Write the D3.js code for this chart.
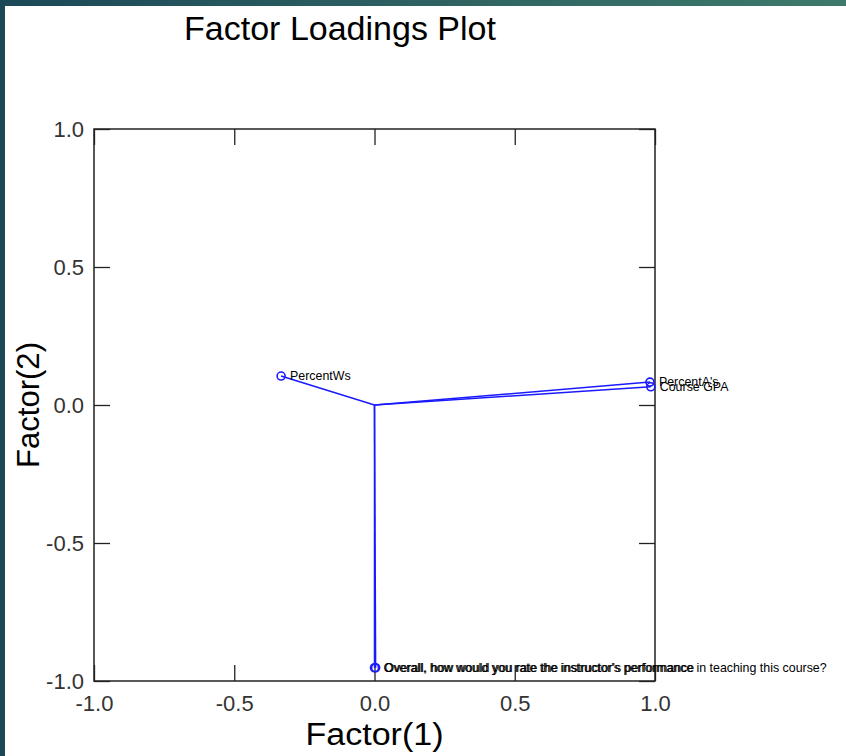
<!DOCTYPE html>
<html>
<head>
<meta charset="utf-8">
<script src="https://cdn.jsdelivr.net/npm/d3@7"></script>
<style>
  body { margin: 0; background: #fff; }
  svg { display: block; font-family: Arial, "Liberation Sans", sans-serif; }
</style>
</head>
<body>
<div id="chart"></div>
<script>
// factor loadings
var varNames = ["PercentWs", "PercentA's", "Course GPA",
  "Overall, how would you rate the instructor's performance",
  "Overall, how would you rate the instructor's performance in teaching this course?"];
var factor1 = [-0.333, 0.982, 0.985, 0.004, 0.0];
var factor2 = [0.105, 0.083, 0.066, -0.952, -0.952];
var tickVals = [-1.0, -0.5, 0.0, 0.5, 1.0];

var width = 846, height = 756;
var margin = {top: 129, right: 191, bottom: 75, left: 94};

var svg = d3.select("#chart").append("svg")
    .attr("width", width)
    .attr("height", height);

// teal window edge, top and left
var grad = svg.append("defs").append("linearGradient")
    .attr("id", "edge").attr("x1", "0%").attr("x2", "100%");
grad.append("stop").attr("offset", "0%").attr("stop-color", "#1c4858");
grad.append("stop").attr("offset", "100%").attr("stop-color", "#3e7a6b");
svg.append("rect").attr("width", width).attr("height", 6).attr("fill", "url(#edge)");
svg.append("rect").attr("width", 5).attr("height", height).attr("fill", "#1b4757");

var x = d3.scaleLinear().domain([-1, 1]).range([margin.left, width - margin.right]);
var y = d3.scaleLinear().domain([-1, 1]).range([height - margin.bottom, margin.top]);

var fmt = function(d) { return d.toFixed(1); };
var tickLen = 16;

// axes: labels outside on left/bottom, inner ticks on all four sides
svg.append("g")
    .attr("transform", "translate(0," + y(-1) + ")")
    .call(d3.axisBottom(x).tickValues(tickVals).tickFormat(fmt).tickSize(-tickLen).tickPadding(14))
    .call(function(g) { g.select(".domain").remove(); });
svg.append("g")
    .attr("transform", "translate(" + x(-1) + ",0)")
    .call(d3.axisLeft(y).tickValues(tickVals).tickFormat(fmt).tickSize(-tickLen).tickPadding(10))
    .call(function(g) { g.select(".domain").remove(); });
svg.append("g")
    .attr("transform", "translate(0," + y(1) + ")")
    .call(d3.axisTop(x).tickValues(tickVals).tickFormat("").tickSize(-tickLen))
    .call(function(g) { g.select(".domain").remove(); });
svg.append("g")
    .attr("transform", "translate(" + x(1) + ",0)")
    .call(d3.axisRight(y).tickValues(tickVals).tickFormat("").tickSize(-tickLen))
    .call(function(g) { g.select(".domain").remove(); });

svg.selectAll(".tick line").attr("stroke", "#222").attr("stroke-width", 1.3);
svg.selectAll(".tick text")
    .attr("font-size", 22)
    .attr("fill", "#333")
    .attr("font-family", "Arial, 'Liberation Sans', sans-serif");

// frame
svg.append("rect")
    .attr("x", x(-1)).attr("y", y(1))
    .attr("width", x(1) - x(-1)).attr("height", y(-1) - y(1))
    .attr("fill", "none").attr("stroke", "#222").attr("stroke-width", 1.5);

var data = varNames.map(function(n, i) { return {name: n, f1: factor1[i], f2: factor2[i]}; });

// vectors from the origin
svg.selectAll(".vec")
    .data(data)
  .enter().append("line")
    .attr("class", "vec")
    .attr("x1", x(0)).attr("y1", y(0))
    .attr("x2", function(d) { return x(d.f1); })
    .attr("y2", function(d) { return y(d.f2); })
    .attr("stroke", "#1a1aff")
    .attr("stroke-width", 1.5);

svg.selectAll(".pt")
    .data(data)
  .enter().append("circle")
    .attr("class", "pt")
    .attr("cx", function(d) { return x(d.f1); })
    .attr("cy", function(d) { return y(d.f2); })
    .attr("r", 4)
    .attr("fill", "none")
    .attr("stroke", "#1a1aff")
    .attr("stroke-width", 1.6);

svg.selectAll(".lbl")
    .data(data)
  .enter().append("text")
    .attr("class", "lbl")
    .attr("x", function(d) { return x(d.f1) + 9; })
    .attr("y", function(d) { return y(d.f2) + 4; })
    .attr("font-size", 12.4)
    .attr("fill", "#000")
    .text(function(d) { return d.name; });

// titles
svg.append("text")
    .attr("x", 340).attr("y", 40)
    .attr("text-anchor", "middle")
    .attr("font-size", 34)
    .text("Factor Loadings Plot");

svg.append("text")
    .attr("x", x(0)).attr("y", 745)
    .attr("text-anchor", "middle")
    .attr("font-size", 31)
    .attr("textLength", 138)
    .attr("lengthAdjust", "spacingAndGlyphs")
    .text("Factor(1)");

svg.append("text")
    .attr("transform", "translate(39," + y(0) + ") rotate(-90)")
    .attr("text-anchor", "middle")
    .attr("font-size", 31)
    .attr("textLength", 126)
    .attr("lengthAdjust", "spacingAndGlyphs")
    .text("Factor(2)");
</script>
</body>
</html>
